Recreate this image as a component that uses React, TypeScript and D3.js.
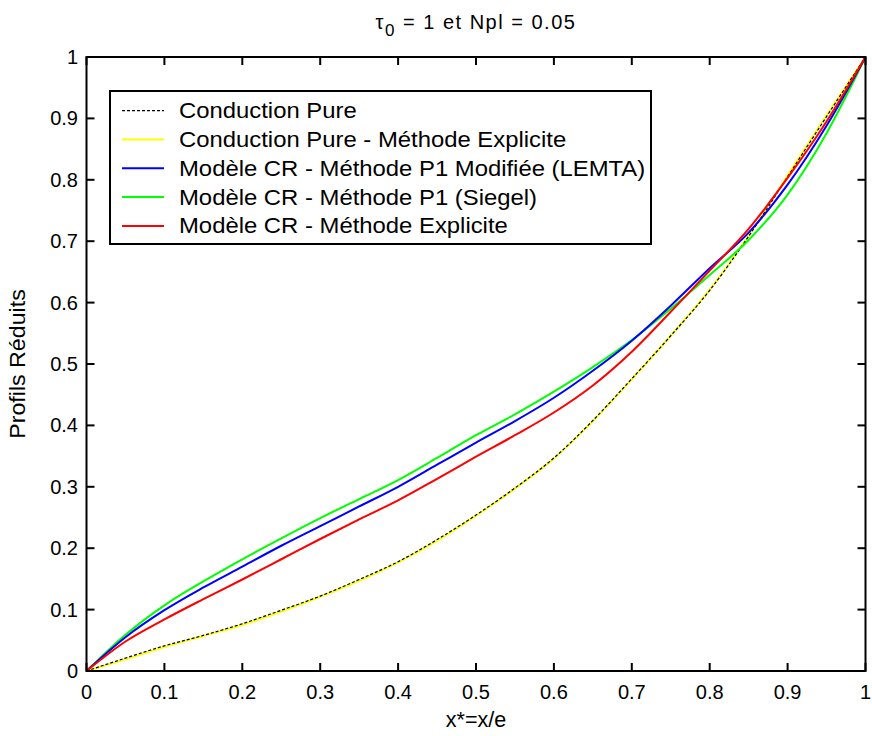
import React from "react";
import * as d3 from "d3";

const xs = [0, 0.05, 0.1, 0.15, 0.2, 0.25, 0.3, 0.35, 0.4, 0.45, 0.5, 0.55, 0.6, 0.65, 0.7, 0.75, 0.8, 0.85, 0.9, 0.95, 1];
const condPure = [0, 0.021, 0.041, 0.058, 0.077, 0.099, 0.122, 0.149, 0.178, 0.214, 0.254, 0.298, 0.347, 0.408, 0.476, 0.546, 0.620, 0.708, 0.805, 0.903, 1];
const condExpl = [0, 0.019, 0.039, 0.057, 0.075, 0.097, 0.121, 0.147, 0.177, 0.212, 0.253, 0.297, 0.346, 0.407, 0.475, 0.546, 0.621, 0.709, 0.807, 0.905, 1];
const crLemta = [0, 0.055, 0.099, 0.136, 0.170, 0.204, 0.236, 0.268, 0.300, 0.336, 0.372, 0.407, 0.445, 0.489, 0.538, 0.595, 0.656, 0.714, 0.792, 0.888, 1];
const crSiegel = [0, 0.059, 0.107, 0.146, 0.182, 0.216, 0.249, 0.280, 0.311, 0.347, 0.384, 0.418, 0.455, 0.495, 0.539, 0.590, 0.645, 0.702, 0.776, 0.876, 1];
const crExpl = [0, 0.048, 0.084, 0.117, 0.149, 0.182, 0.215, 0.247, 0.278, 0.313, 0.349, 0.384, 0.421, 0.465, 0.520, 0.585, 0.652, 0.720, 0.803, 0.895, 1];

const seriesNames = [
  "Conduction Pure",
  "Conduction Pure - Méthode Explicite",
  "Modèle CR - Méthode P1 Modifiée (LEMTA)",
  "Modèle CR - Méthode P1 (Siegel)",
  "Modèle CR - Méthode Explicite",
];
const seriesValues = [condPure, condExpl, crLemta, crSiegel, crExpl];
const seriesColors = ["#000000", "#ffff00", "#0000ff", "#00ff00", "#ff0000"];
const seriesDash = ["3,2", null, null, null, null];
const drawOrder = [1, 0, 3, 2, 4];

const xTicks = [0, 0.1, 0.2, 0.3, 0.4, 0.5, 0.6, 0.7, 0.8, 0.9, 1];
const yTicks = [0, 0.1, 0.2, 0.3, 0.4, 0.5, 0.6, 0.7, 0.8, 0.9, 1];

const W = 872, H = 736;
const L = 86.5, R = 865.5, T = 57, B = 671;
const FONT = "'Liberation Sans', Arial, Helvetica, sans-serif";

export default function App() {
  const x = d3.scaleLinear().domain([0, 1]).range([L, R]);
  const y = d3.scaleLinear().domain([0, 1]).range([B, T]);
  const line = d3.line<number>().x((_, i) => x(xs[i])).y((d) => y(d)).curve(d3.curveMonotoneX);
  const fmt = (v: number) => (v === 0 || v === 1 ? String(v) : v.toFixed(1));
  const tk = 8;
  const legX = 110, legY = 91, legW = 541, legH = 153, rowH = 28.8, row0 = 110.7;

  return (
    <svg width={W} height={H} style={{ position: "absolute", left: 0, top: 0, background: "#fff" }} fontFamily={FONT}>
      <defs>
        <clipPath id="clip"><rect x={L - 2} y={T - 2} width={R - L + 4} height={B - T + 4} /></clipPath>
      </defs>
      <rect x={0} y={0} width={W} height={H} fill="#fff" />
      <g clipPath="url(#clip)">
        {drawOrder.map((k) => (
          <path key={k} d={line(seriesValues[k]) || ""} fill="none" stroke={seriesColors[k]}
            strokeWidth={k === 0 ? 1.2 : 2} strokeDasharray={seriesDash[k] || undefined} />
        ))}
      </g>
      <rect x={L} y={T} width={R - L} height={B - T} fill="none" stroke="#000" strokeWidth={2} />
      {xTicks.map((t) => (
        <g key={"x" + t}>
          <line x1={x(t)} x2={x(t)} y1={B} y2={B - tk} stroke="#000" strokeWidth={2} />
          <line x1={x(t)} x2={x(t)} y1={T} y2={T + tk} stroke="#000" strokeWidth={2} />
          <text x={x(t)} y={699} textAnchor="middle" fontSize={20}>{fmt(t)}</text>
        </g>
      ))}
      {yTicks.map((t) => (
        <g key={"y" + t}>
          <line x1={L} x2={L + tk} y1={y(t)} y2={y(t)} stroke="#000" strokeWidth={2} />
          <line x1={R} x2={R - tk} y1={y(t)} y2={y(t)} stroke="#000" strokeWidth={2} />
          <text x={78} y={y(t) + 7} textAnchor="end" fontSize={20}>{fmt(t)}</text>
        </g>
      ))}
      <text x={(L + R) / 2} y={29} textAnchor="middle" fontSize={20} letterSpacing={1.5}>
        <tspan>τ</tspan><tspan fontSize={17} dy={7}>0</tspan><tspan dy={-7}> = 1 et Npl = 0.05</tspan>
      </text>
      <text x={(L + R) / 2} y={727} textAnchor="middle" fontSize={21.5}>x*=x/e</text>
      <text transform={`translate(25,${(T + B) / 2}) rotate(-90) scale(1.08,1)`} textAnchor="middle" fontSize={21.5}>Profils Réduits</text>
      <rect x={legX} y={legY} width={legW} height={legH} fill="#fff" stroke="#000" strokeWidth={2} />
      {seriesNames.map((n, i) => {
        const cy = row0 + i * rowH;
        return (
          <g key={n}>
            <line x1={122} x2={164} y1={cy} y2={cy} stroke={seriesColors[i]} strokeWidth={i === 0 ? 1.2 : 2}
              strokeDasharray={seriesDash[i] || undefined} />
            <text transform={`translate(179,${cy + 7.5}) scale(1.11,1)`} fontSize={21.5}>{n}</text>
          </g>
        );
      })}
    </svg>
  );
}
